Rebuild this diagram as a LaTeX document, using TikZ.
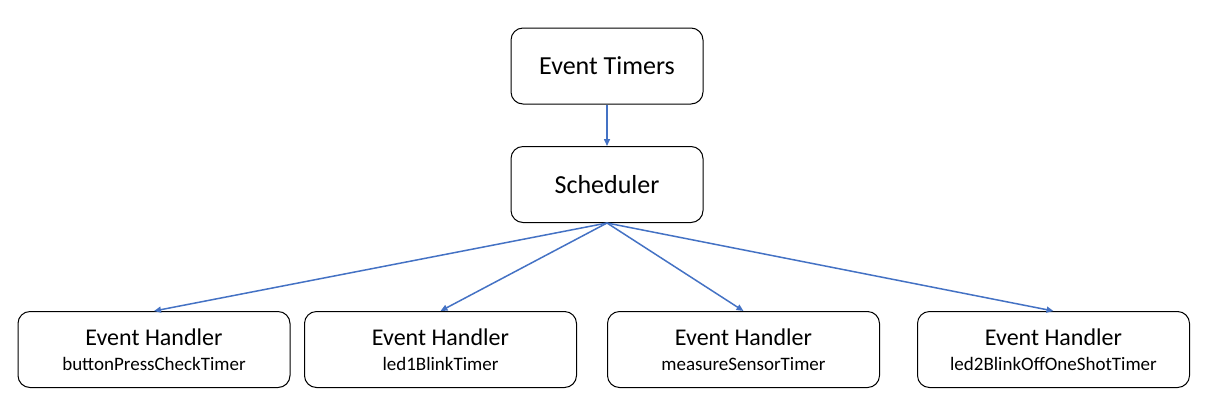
\documentclass[tikz,border=0pt]{standalone}
\usepackage{fontspec}
\setmainfont{Carlito}
\usetikzlibrary{arrows.meta}
\definecolor{linkblue}{HTML}{4472C4}
\tikzset{
  box/.style={draw=black, line width=1pt, rounded corners=12pt, minimum width=192pt, minimum height=76pt, align=center, inner sep=0pt},
  hbox/.style={draw=black, line width=1pt, rounded corners=12pt, minimum width=272pt, minimum height=76pt, align=center, inner sep=0pt},
  link/.style={draw=linkblue, line width=1.5pt, -{Triangle[length=7pt,width=6pt]}},
  big/.style={font=\fontsize{26}{30}\selectfont},
  htext/.style={font=\fontsize{24}{26}\selectfont},
}
\newcommand{\subtxt}[1]{{\fontsize{19}{22}\selectfont #1}}
\begin{document}
\begin{tikzpicture}[x=1pt,y=-1pt]
\useasboundingbox (0,0) rectangle (1209,416);
\node[box, big] (timers) at (607,66) {Event Timers};
\node[box, big] (sched) at (607,184.5) {Scheduler};
\node[hbox, htext] (h1) at (154,349.5) {Event Handler\\[-1pt]\subtxt{buttonPressCheckTimer}};
\node[hbox, htext] (h2) at (440.5,349.5) {Event Handler\\[-1pt]\subtxt{led1BlinkTimer}};
\node[hbox, htext] (h3) at (743.5,349.5) {Event Handler\\[-1pt]\subtxt{measureSensorTimer}};
\node[hbox, htext] (h4) at (1053.5,349.5) {Event Handler\\[-1pt]\subtxt{led2BlinkOffOneShotTimer}};
\draw[link] (timers.south) -- (sched.north);
\draw[link] (sched.south) -- (h1.north);
\draw[link] (sched.south) -- (h2.north);
\draw[link] (sched.south) -- (h3.north);
\draw[link] (sched.south) -- (h4.north);
\end{tikzpicture}
\end{document}
